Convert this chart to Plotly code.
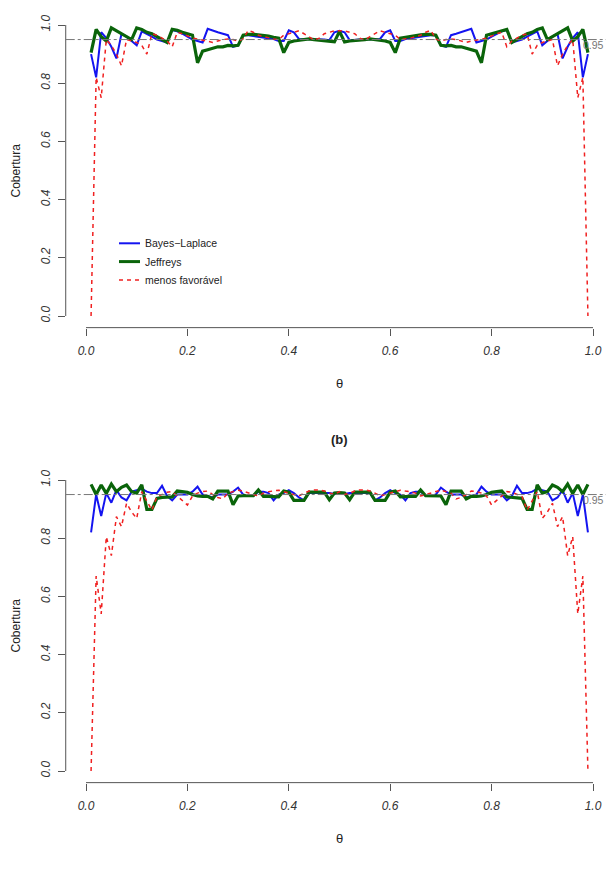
import plotly.graph_objects as go

# theta grid 0.01 .. 0.99
theta = [round(k / 100, 2) for k in range(1, 100)]

# ---------- panel (a) ----------
a_bayes_laplace = [
    0.90, 0.82, 0.975, 0.955, 0.925, 0.885, 0.97, 0.96, 0.945, 0.93,
    0.978, 0.97, 0.96, 0.95, 0.945, 0.94, 0.983, 0.978, 0.97, 0.96,
    0.95, 0.945, 0.94, 0.987, 0.98, 0.975, 0.97, 0.965, 0.925, 0.93,
    0.965, 0.965, 0.962, 0.96, 0.958, 0.955, 0.952, 0.945, 0.945, 0.982,
    0.975, 0.952, 0.952, 0.95, 0.95, 0.95, 0.95, 0.948, 0.975, 0.98,
    0.975, 0.948, 0.95, 0.95, 0.95, 0.95, 0.952, 0.952, 0.975, 0.982,
    0.945, 0.945, 0.952, 0.955, 0.958, 0.96, 0.962, 0.965, 0.965, 0.93,
    0.925, 0.965, 0.97, 0.975, 0.98, 0.987, 0.94, 0.945, 0.95, 0.96,
    0.97, 0.978, 0.983, 0.94, 0.945, 0.95, 0.96, 0.97, 0.978, 0.93,
    0.945, 0.96, 0.97, 0.885, 0.925, 0.955, 0.975, 0.82, 0.90,
]
a_jeffreys = [
    0.905, 0.985, 0.96, 0.945, 0.99, 0.98, 0.97, 0.96, 0.95, 0.99,
    0.985, 0.975, 0.97, 0.96, 0.95, 0.94, 0.985, 0.982, 0.975, 0.97,
    0.965, 0.87, 0.91, 0.915, 0.92, 0.925, 0.925, 0.93, 0.928, 0.93,
    0.965, 0.968, 0.968, 0.966, 0.965, 0.962, 0.958, 0.955, 0.905, 0.94,
    0.945, 0.948, 0.95, 0.952, 0.95, 0.948, 0.946, 0.945, 0.942, 0.978,
    0.942, 0.945, 0.946, 0.948, 0.95, 0.952, 0.95, 0.948, 0.945, 0.94,
    0.905, 0.955, 0.958, 0.962, 0.965, 0.966, 0.968, 0.968, 0.965, 0.93,
    0.928, 0.93, 0.925, 0.925, 0.92, 0.915, 0.91, 0.87, 0.965, 0.97,
    0.975, 0.982, 0.985, 0.94, 0.95, 0.96, 0.97, 0.975, 0.985, 0.99,
    0.95, 0.96, 0.97, 0.98, 0.99, 0.945, 0.96, 0.985, 0.905,
]
a_menos_favoravel = [
    0.0, 0.82, 0.75, 0.95, 0.93, 0.90, 0.86, 0.95, 0.945, 0.94,
    0.93, 0.90, 0.97, 0.965, 0.955, 0.945, 0.925, 0.975, 0.97, 0.962,
    0.955, 0.952, 0.948, 0.945, 0.94, 0.945, 0.95, 0.952, 0.95, 0.945,
    0.952, 0.982, 0.975, 0.965, 0.96, 0.955, 0.952, 0.95, 0.965, 0.97,
    0.975, 0.98, 0.97, 0.96, 0.948, 0.955, 0.97, 0.975, 0.98, 0.98,
    0.98, 0.975, 0.97, 0.955, 0.948, 0.96, 0.97, 0.98, 0.975, 0.97,
    0.965, 0.95, 0.952, 0.955, 0.96, 0.965, 0.975, 0.982, 0.952, 0.945,
    0.95, 0.952, 0.95, 0.945, 0.94, 0.945, 0.948, 0.952, 0.955, 0.962,
    0.97, 0.975, 0.925, 0.945, 0.955, 0.965, 0.97, 0.90, 0.93, 0.94,
    0.945, 0.95, 0.86, 0.90, 0.93, 0.95, 0.75, 0.82, 0.0,
]

# ---------- panel (b) ----------
b_bayes_laplace = [
    0.82, 0.95, 0.876, 0.955, 0.922, 0.965, 0.94, 0.93, 0.96, 0.965,
    0.97, 0.96, 0.955, 0.955, 0.98, 0.945, 0.93, 0.95, 0.95, 0.95,
    0.96, 0.977, 0.95, 0.945, 0.94, 0.95, 0.95, 0.95, 0.96, 0.974,
    0.95, 0.945, 0.945, 0.96, 0.96, 0.955, 0.93, 0.95, 0.955, 0.965,
    0.955, 0.94, 0.93, 0.955, 0.955, 0.955, 0.955, 0.955, 0.952, 0.955,
    0.952, 0.955, 0.955, 0.955, 0.955, 0.955, 0.93, 0.94, 0.955, 0.965,
    0.955, 0.95, 0.93, 0.955, 0.96, 0.96, 0.945, 0.945, 0.95, 0.974,
    0.96, 0.95, 0.95, 0.95, 0.94, 0.945, 0.95, 0.977, 0.96, 0.95,
    0.95, 0.95, 0.93, 0.945, 0.98, 0.955, 0.955, 0.96, 0.97, 0.965,
    0.96, 0.93, 0.94, 0.965, 0.922, 0.955, 0.876, 0.95, 0.82,
]
b_jeffreys = [
    0.985, 0.95, 0.983, 0.954, 0.986, 0.96, 0.975, 0.983, 0.96, 0.955,
    0.983, 0.899, 0.899, 0.937, 0.94, 0.94, 0.942, 0.962, 0.96, 0.958,
    0.95, 0.945, 0.944, 0.944, 0.935, 0.962, 0.962, 0.962, 0.915, 0.945,
    0.946, 0.946, 0.946, 0.966, 0.944, 0.944, 0.944, 0.942, 0.962, 0.958,
    0.93, 0.93, 0.93, 0.958, 0.958, 0.958, 0.958, 0.932, 0.955, 0.957,
    0.955, 0.932, 0.958, 0.958, 0.958, 0.958, 0.93, 0.93, 0.93, 0.958,
    0.962, 0.942, 0.944, 0.944, 0.944, 0.966, 0.946, 0.946, 0.946, 0.945,
    0.915, 0.962, 0.962, 0.962, 0.935, 0.944, 0.944, 0.945, 0.95, 0.958,
    0.96, 0.962, 0.942, 0.94, 0.94, 0.937, 0.899, 0.899, 0.983, 0.955,
    0.96, 0.983, 0.975, 0.96, 0.986, 0.954, 0.983, 0.95, 0.985,
]
b_menos_favoravel = [
    0.0, 0.67, 0.54, 0.805, 0.74, 0.874, 0.84, 0.92, 0.89, 0.868,
    0.96, 0.93, 0.896, 0.943, 0.95, 0.958, 0.96, 0.945, 0.93, 0.914,
    0.945, 0.955, 0.96, 0.962, 0.95, 0.94, 0.935, 0.955, 0.96, 0.965,
    0.962, 0.955, 0.95, 0.945, 0.955, 0.96, 0.962, 0.965, 0.96, 0.955,
    0.95, 0.945, 0.955, 0.962, 0.966, 0.966, 0.962, 0.955, 0.95, 0.96,
    0.95, 0.955, 0.962, 0.966, 0.966, 0.962, 0.955, 0.945, 0.95, 0.955,
    0.96, 0.965, 0.962, 0.96, 0.955, 0.945, 0.95, 0.955, 0.962, 0.965,
    0.96, 0.955, 0.935, 0.94, 0.95, 0.962, 0.96, 0.955, 0.945, 0.914,
    0.93, 0.945, 0.96, 0.958, 0.95, 0.943, 0.896, 0.93, 0.96, 0.868,
    0.89, 0.92, 0.84, 0.874, 0.74, 0.805, 0.54, 0.67, 0.0,
]

x_ticks = [0.0, 0.2, 0.4, 0.6, 0.8, 1.0]
x_ticklabels = ["0.0", "0.2", "0.4", "0.6", "0.8", "1.0"]
y_ticks = [0.0, 0.2, 0.4, 0.6, 0.8, 1.0]
y_ticklabels = ["0.0", "0.2", "0.4", "0.6", "0.8", "1.0"]
ref_level = 0.95
series_names = ["Bayes\u2212Laplace", "Jeffreys", "menos favorável"]

# The page body has an 8px default margin: size the figure so that it
# sits inside the 614x886 window, and express targets in window pixels.
OFF = 8
W, H = 614 - OFF, 886 - OFF
FONT = "Liberation Sans, Arial, Helvetica, sans-serif"
AXC = "#555555"
TXC = "#333333"

# window-pixel geometry of the reference
x0_px, x1_px = 86.0, 593.0          # theta 0 and 1
ya0_px, ya1_px = 316.0, 25.0         # panel a: value 0 and 1
yb0_px, yb1_px = 771.0, 480.0        # panel b


def px_x(xw):
    return (xw - OFF) / W


def px_y(yw):
    return 1 - (yw - OFF) / H


s_x = x1_px - x0_px
XD = [px_x(x0_px - 0.04 * s_x), min(1.0, px_x(x1_px + 0.04 * s_x))]
x_right_val = ((XD[1] * W + OFF) - x0_px) / s_x


def ydom(p0, p1):
    s = p0 - p1
    return [px_y(p0 + 0.04 * s), px_y(p1 - 0.04 * s)]


YDA = ydom(ya0_px, ya1_px)
YDB = ydom(yb0_px, yb1_px)

fig = go.Figure()

styles = [
    dict(color="#1414f0", width=2),
    dict(color="#0a640a", width=3.2),
    dict(color="#f02020", width=1.5, dash="4px,4px"),
]

panels = [
    ("x", "y", [a_bayes_laplace, a_jeffreys, a_menos_favoravel]),
    ("x2", "y2", [b_bayes_laplace, b_jeffreys, b_menos_favoravel]),
]
for xa, ya, series in panels:
    for name, vals, st in zip(series_names, series, styles):
        fig.add_trace(go.Scatter(
            x=theta, y=vals, mode="lines", name=name, line=st,
            xaxis=xa, yaxis=ya, showlegend=False, hoverinfo="skip",
        ))

common_x = dict(
    range=[-0.04, x_right_val], domain=XD, tickvals=x_ticks,
    ticktext=["<i>%s</i>" % t for t in x_ticklabels],
    ticks="outside", ticklen=7, tickcolor=AXC, tickwidth=1,
    showline=False, showgrid=False, zeroline=False,
    tickfont=dict(family=FONT, size=12, color=TXC), ticklabelstandoff=5,
)
common_y = dict(
    range=[-0.04, 1.04], tickvals=y_ticks,
    ticktext=["<i>%s</i>" % t for t in y_ticklabels],
    ticks="outside", ticklen=7, tickcolor=AXC, tickwidth=1, tickangle=-90,
    showline=False, showgrid=False, zeroline=False,
    tickfont=dict(family=FONT, size=12, color=TXC), ticklabelstandoff=3,
)

fig.update_layout(
    width=W, height=H, margin=dict(l=0, r=0, t=0, b=0),
    paper_bgcolor="white", plot_bgcolor="white",
    font=dict(family=FONT, color=TXC),
    xaxis=dict(common_x, anchor="y"),
    yaxis=dict(common_y, domain=YDA, anchor="x"),
    xaxis2=dict(common_x, anchor="y2"),
    yaxis2=dict(common_y, domain=YDB, anchor="x2"),
    showlegend=False,
)

shapes = []
annotations = []
for xa, ya, yd in [("x", "y", YDA), ("x2", "y2", YDB)]:
    shapes.append(dict(type="line", xref=xa, yref="paper", x0=0, x1=1,
                       y0=yd[0], y1=yd[0], line=dict(color=AXC, width=1)))
    shapes.append(dict(type="line", xref="paper", yref=ya, x0=XD[0], x1=XD[0],
                       y0=0, y1=1, line=dict(color=AXC, width=1)))
    shapes.append(dict(type="line", xref=xa + " domain", yref=ya, x0=0, x1=1,
                       y0=ref_level, y1=ref_level,
                       line=dict(color="#777777", width=1, dash="dashdot")))
    annotations.append(dict(xref=xa, yref=ya, x=1.0, y=ref_level - 0.02,
                            xanchor="center", yanchor="middle",
                            text="0.95", showarrow=False,
                            font=dict(family=FONT, size=10.5, color="#777777")))

# legend (panel a), drawn like R's legend box without border
leg_y = [243.3, 261.6, 279.9]
for name, st, yw in zip(series_names, styles, leg_y):
    shapes.append(dict(type="line", xref="paper", yref="paper",
                       x0=px_x(119), x1=px_x(140), y0=px_y(yw), y1=px_y(yw),
                       line=dict(st, width=min(st["width"], 3))))
    annotations.append(dict(xref="paper", yref="paper", x=px_x(143), y=px_y(yw),
                            xanchor="left", yanchor="middle", text=name,
                            showarrow=False,
                            font=dict(family=FONT, size=10.5, color="#222222")))

for p0, p1 in [(ya0_px, ya1_px), (yb0_px, yb1_px)]:
    ymid = (p0 + p1) / 2
    annotations.append(dict(xref="paper", yref="paper", x=px_x(15), y=px_y(ymid),
                            xanchor="center", yanchor="middle",
                            text="Cobertura", showarrow=False, textangle=-90,
                            font=dict(family=FONT, size=12, color="#222222")))
    annotations.append(dict(xref="paper", yref="paper", x=px_x((x0_px + x1_px) / 2),
                            y=px_y(p0 + 67), xanchor="center", yanchor="middle",
                            text="θ", showarrow=False,
                            font=dict(family=FONT, size=13, color="#222222")))

annotations.append(dict(xref="paper", yref="paper", x=px_x((x0_px + x1_px) / 2),
                        y=px_y(439), xanchor="center", yanchor="middle",
                        text="<b>(b)</b>", showarrow=False,
                        font=dict(family=FONT, size=13, color="#222222")))

fig.update_layout(shapes=shapes, annotations=annotations)

fig.write_html("out.html")
